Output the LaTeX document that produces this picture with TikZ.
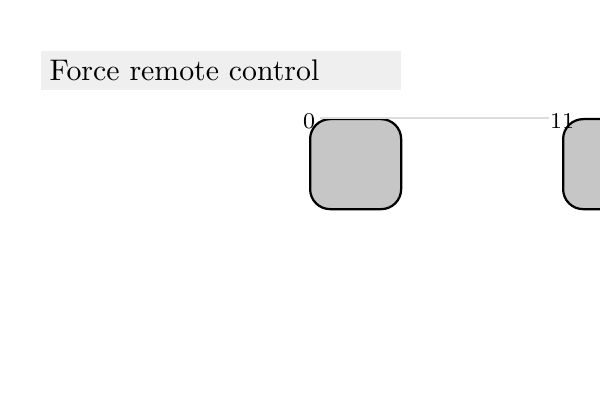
\documentclass[tikz,border=0pt]{standalone}
\usetikzlibrary{positioning,calc}
\definecolor{titlegray}{HTML}{EFEFEF}
\definecolor{boxgray}{HTML}{C6C6C6}
\definecolor{linkgray}{HTML}{DDDDDD}

\begin{document}
\begin{tikzpicture}
  [x=0.0125cm, y=-0.0125cm,
   state/.style={
     rectangle,
     draw=black,
     fill=boxgray,
     thick,
     rounded corners=0.25cm,
     minimum width=1.1375cm,
     minimum height=1.125cm,
     anchor=north west
     },
   statelabel/.style={
     font=\fontsize{8}{9}\selectfont,
     inner sep=0pt
     },
   title/.style={
     rectangle,
     fill=titlegray,
     anchor=north west,
     minimum width=4.5cm,
     minimum height=0.4875cm,
     inner xsep=0.1125cm,
     text width=4.275cm,
     align=left,
     font=\fontsize{10.6}{13}\selectfont
     }
  ]
  \useasboundingbox (0,0) rectangle (600,400);

  \node [title] (titel) at (40,50) {Force remote control};

  % zustaende
  \node [state] (s0) at (309,118) {};
  \node [state] (s1) at (562,118) {};

  \node [statelabel] (l0) at ($(s0.north west)+(0,3)$) {0};
  \node [statelabel] (l1) at ($(s1.north west)+(0,3)$) {11};

  \draw [linkgray] ($(s0.north west)+(11,0)$) -- (l1.west |- s0.north);
\end{tikzpicture}
\end{document}
